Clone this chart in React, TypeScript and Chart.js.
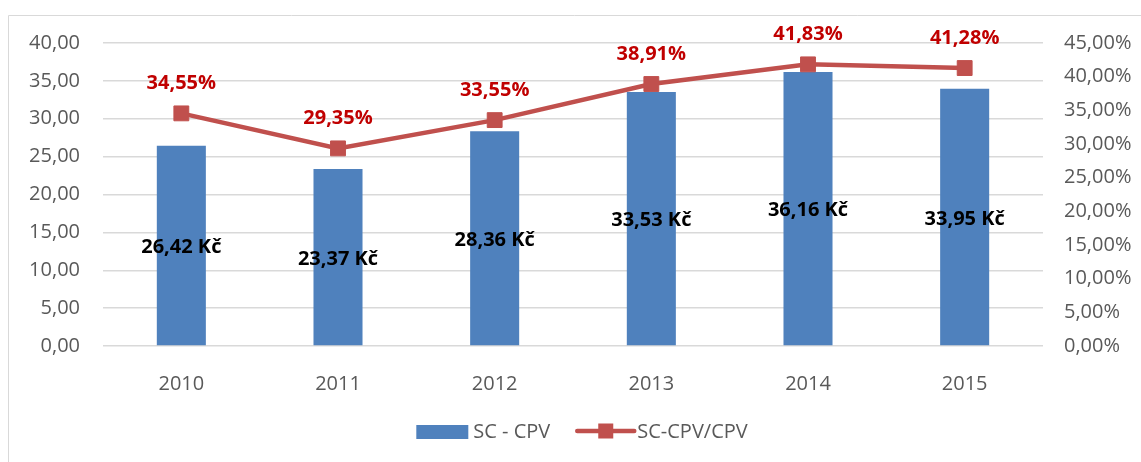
import React, { useEffect, useRef } from "react";
import { Chart, registerables } from "chart.js";

Chart.register(...registerables);

const categories = ["2010", "2011", "2012", "2013", "2014", "2015"];
const barValues = [26.42, 23.37, 28.36, 33.53, 36.16, 33.95];
const lineValues = [34.55, 29.35, 33.55, 38.91, 41.83, 41.28];
const barLabel = "SC - CPV";
const lineLabel = "SC-CPV/CPV";

const FONT = "'Open Sans', 'Liberation Sans', sans-serif";
const BLUE = "#4f81bd";
const RED = "#c0504d";
const TICK = "#595959";

const fmt = (v: number) => v.toFixed(2).replace(".", ",");

const decoPlugin = {
  id: "deco",
  beforeDraw(chart: any) {
    const ctx = chart.ctx;
    ctx.save();
    ctx.strokeStyle = "#d9d9d9";
    ctx.lineWidth = 1;
    ctx.beginPath();
    ctx.moveTo(8.5, chart.height);
    ctx.lineTo(8.5, 15.5);
    ctx.lineTo(chart.width, 15.5);
    ctx.stroke();
    ctx.restore();
  },
  afterDraw(chart: any) {
    const ctx = chart.ctx;
    ctx.save();
    // bar labels
    const barMeta = chart.getDatasetMeta(0);
    ctx.font = `bold 20px ${FONT}`;
    ctx.textAlign = "center";
    ctx.textBaseline = "middle";
    ctx.fillStyle = "#000000";
    barMeta.data.forEach((el: any, i: number) => {
      const yc = (el.y + el.base) / 2;
      ctx.fillText(`${fmt(barValues[i])} Kč`, el.x, yc + 2);
    });
    // line labels
    const lineMeta = chart.getDatasetMeta(1);
    ctx.fillStyle = "#c00000";
    lineMeta.data.forEach((el: any, i: number) => {
      ctx.fillText(`${fmt(lineValues[i])}%`, el.x, el.y - 30);
    });
    // legend
    ctx.font = `20px ${FONT}`;
    ctx.textAlign = "left";
    const t1 = ctx.measureText(barLabel).width;
    const t2 = ctx.measureText(lineLabel).width;
    const total = 52 + 5 + t1 + 27 + 57 + 3 + t2;
    let x = 582 - total / 2;
    const ly = 432;
    ctx.fillStyle = BLUE;
    ctx.fillRect(x, ly - 7, 52, 14);
    x += 57;
    ctx.fillStyle = TICK;
    ctx.fillText(barLabel, x, ly);
    x += t1 + 27;
    ctx.strokeStyle = RED;
    ctx.lineWidth = 4.5;
    ctx.lineCap = "round";
    ctx.beginPath();
    ctx.moveTo(x, ly - 1);
    ctx.lineTo(x + 57, ly - 1);
    ctx.stroke();
    ctx.fillStyle = RED;
    ctx.fillRect(x + 21, ly - 8.5, 15, 15);
    x += 60;
    ctx.fillStyle = TICK;
    ctx.fillText(lineLabel, x, ly);
    ctx.restore();
  },
};

export default function App() {
  const ref = useRef<HTMLCanvasElement | null>(null);
  useEffect(() => {
    if (!ref.current) return;
    const chart = new Chart(ref.current, {
      type: "bar",
      data: {
        labels: categories,
        datasets: [
          {
            type: "bar",
            label: barLabel,
            data: barValues,
            yAxisID: "y",
            backgroundColor: BLUE,
            categoryPercentage: 1,
            barPercentage: 0.313,
            order: 1,
          } as any,
          {
            type: "line",
            label: lineLabel,
            data: lineValues,
            yAxisID: "y1",
            borderColor: RED,
            backgroundColor: RED,
            borderWidth: 4.5,
            pointStyle: "rect",
            pointRadius: 10.5,
            pointBorderWidth: 1,
            pointBorderColor: RED,
            pointBackgroundColor: RED,
            tension: 0,
            order: 0,
          } as any,
        ],
      },
      options: {
        animation: false,
        responsive: true,
        maintainAspectRatio: false,
        layout: { padding: { left: 10, right: 0, top: 43, bottom: 60 } },
        plugins: {
          legend: { display: false },
          tooltip: { enabled: false },
        },
        scales: {
          x: {
            grid: { display: false },
            border: { display: false },
            ticks: { color: TICK, font: { family: FONT, size: 20 }, padding: 18 },
            afterFit: (s: any) => { s.height = 56; },
          },
          y: {
            position: "left",
            min: 0,
            max: 40,
            grid: { color: "#d9d9d9", lineWidth: 1.5, drawTicks: false },
            border: { display: false },
            ticks: {
              stepSize: 5,
              color: TICK,
              padding: 23,
              font: { family: FONT, size: 20 },
              callback: (v: any) => fmt(Number(v)),
            },
            afterFit: (s: any) => { s.width = 93; },
          },
          y1: {
            position: "right",
            min: 0,
            max: 45,
            grid: { display: false, drawTicks: false },
            border: { display: false },
            ticks: {
              stepSize: 5,
              color: TICK,
              padding: 21,
              font: { family: FONT, size: 20 },
              callback: (v: any) => `${fmt(Number(v))}%`,
            },
            afterFit: (s: any) => { s.width = 98; },
          },
        },
      } as any,
      plugins: [decoPlugin],
    });
    return () => chart.destroy();
  }, []);
  return (
    <div style={{ position: "fixed", left: 0, top: 0, width: 1141, height: 462, background: "#fff" }}>
      <canvas ref={ref} />
    </div>
  );
}
